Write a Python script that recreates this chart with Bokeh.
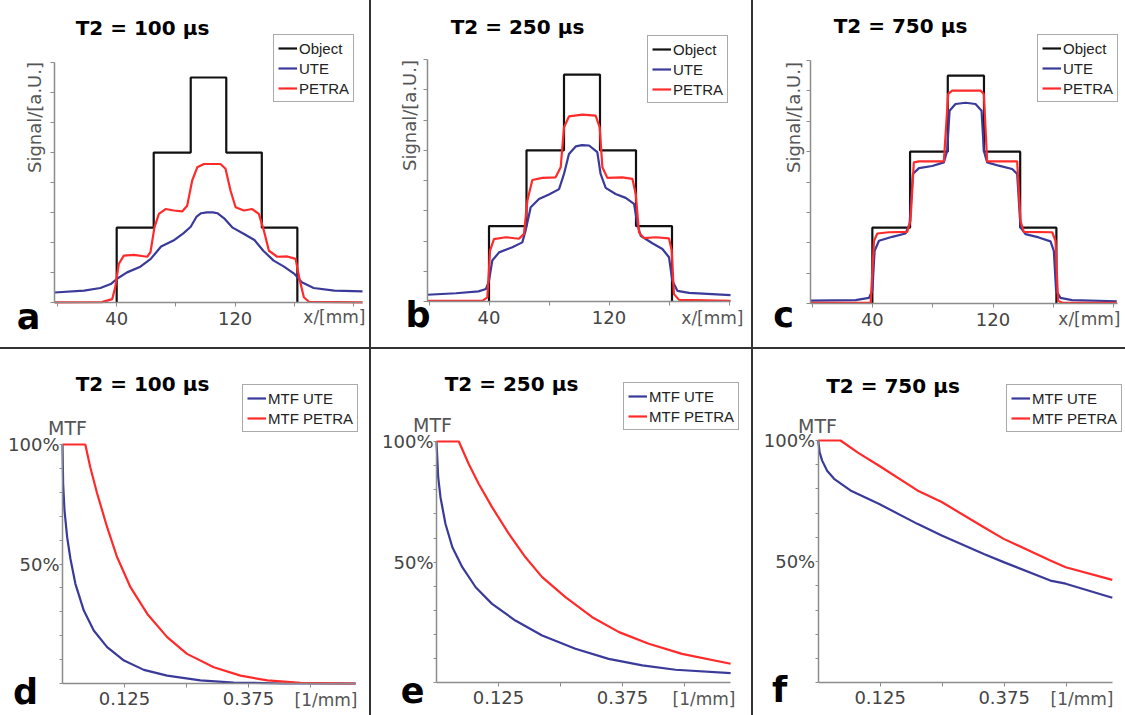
import math
from bokeh.plotting import figure
from bokeh.models import (FixedTicker, Range1d, Label, Legend, LegendItem, Div,
                          PrintfTickFormatter, LinearAxis)
from bokeh.layouts import row, column
from bokeh.embed import file_html
from bokeh.resources import INLINE

# ---------------- data ----------------
TITLES = ["T2 = 100 µs", "T2 = 250 µs", "T2 = 750 µs"]
LETTERS_TOP = ["a", "b", "c"]
LETTERS_BOT = ["d", "e", "f"]

X_TICKS_TOP_LABELED = [40, 120]
X_TICKS_TOP_MINOR = [0, 80, 160, 200]
Y_TICKS_TOP = [0, 10, 20, 30, 40, 50, 60, 70, 80]
X_TICKS_BOT_LABELED = [0.125, 0.375]
X_TICKS_BOT_MINOR = [0.25, 0.5]
Y_TICKS_BOT_LABELED = [50, 100]
Y_TICKS_BOT_MINOR = [0, 10, 20, 30, 40, 60, 70, 80, 90]

OBJ_X = [40, 40, 65, 65, 90, 90, 114, 114, 138, 138, 162, 162]
OBJ_Y = [0, 25, 25, 50, 50, 75, 75, 50, 50, 25, 25, 0]

UTE_A_X = [-2, 18, 29, 36, 40, 47, 56, 63, 70, 79, 85, 90, 94, 97, 101, 105, 108, 113, 118, 126, 133, 139, 146, 153, 160, 165, 173, 187, 206]
UTE_A_Y = [3.4, 4.0, 4.9, 6.2, 7.9, 10.1, 12.0, 14.6, 18.7, 20.9, 23.1, 25.3, 28.7, 29.8, 30.1, 30.1, 29.8, 27.9, 25.1, 22.9, 20.9, 17.3, 14.0, 12.0, 9.6, 6.8, 4.9, 4.0, 3.8]
PETRA_A_X = [-2, 30, 37, 39, 41.4, 44.8, 51.6, 60.6, 62.8, 65.5, 68.5, 73, 78.6, 84.2, 87.6, 91, 94.4, 98.9, 110.1, 113.5, 116.9, 120.3, 125.9, 131.5, 136, 139.4, 142.8, 148.4, 155.2, 160.8, 163.7, 166.4, 169.8, 206]
PETRA_A_Y = [0.1, 0.2, 1.2, 5.1, 12.9, 15.7, 15.9, 15.3, 16.8, 25.1, 29.6, 31.2, 30.7, 30.4, 32.3, 40.7, 45.1, 46.2, 46.2, 44.6, 37.3, 31.8, 30.7, 31.2, 29.6, 24.0, 17.3, 15.3, 15.4, 14.6, 7.3, 1.8, 0.3, 0.1]

UTE_B_X = [-1, 18, 33, 38, 40, 42.2, 46.7, 55.6, 62.2, 64.4, 67.8, 73.3, 80, 86.7, 90, 93.3, 97.8, 102, 106.7, 112.2, 114.4, 117.8, 124.4, 131.1, 136.7, 138.9, 141.1, 148.9, 155.6, 160, 162.2, 165.6, 173.3, 201]
UTE_B_Y = [2.3, 2.8, 3.4, 4.2, 6.9, 13.6, 16.3, 18.0, 19.6, 23.5, 31.2, 33.9, 35.4, 37.2, 42.2, 48.8, 51.3, 51.7, 51.6, 49.4, 42.2, 37.6, 35.6, 34.3, 32.3, 25.7, 21.8, 19.3, 17.4, 14.7, 6.9, 3.6, 2.9, 2.2]
PETRA_B_X = [-1, 35.6, 38.9, 40.7, 43.3, 51.1, 60, 63.3, 65.6, 68.9, 75.6, 84.4, 87.8, 90, 93.3, 102.2, 111.1, 113.8, 115.6, 118.9, 128.9, 135.6, 137.8, 140, 143.3, 151.1, 160, 161.8, 163.3, 166.7, 201]
PETRA_B_Y = [0.3, 0.3, 1.4, 16.9, 20.7, 21.3, 20.8, 22.4, 33.4, 40.2, 40.9, 41.1, 44.4, 57.6, 61.2, 61.8, 61.5, 57.6, 44.4, 40.9, 41.1, 40.6, 35.6, 22.9, 21.0, 21.3, 20.9, 16.9, 2.5, 0.6, 0.3]

UTE_C_X = [-1, 28.9, 37.7, 40, 41.5, 44.4, 53.2, 62, 64.7, 66.9, 70.9, 79.7, 87.4, 89.6, 91.2, 95.1, 101.8, 108.4, 112.4, 113.9, 116.1, 123.8, 132.7, 136, 138.2, 141.5, 150.3, 158.1, 160.3, 161.8, 164.7, 172.4, 202]
UTE_C_Y = [1.0, 1.2, 1.9, 4.3, 17.4, 20.7, 22.0, 23.1, 26.2, 42.7, 44.6, 45.3, 46.5, 50.3, 63.5, 65.7, 66.1, 65.7, 63.5, 50.3, 46.5, 45.4, 44.3, 42.7, 25.1, 22.9, 21.8, 20.5, 17.4, 4.3, 1.9, 1.2, 0.8]
PETRA_C_X = [-1, 38.9, 41.1, 43.3, 51, 63.1, 65.3, 67.5, 70.9, 87.4, 90.3, 92.9, 111.7, 113.9, 116.1, 136, 138.2, 140.4, 159.2, 161.4, 163.1, 165.8, 202]
PETRA_C_Y = [0.3, 0.4, 20.7, 23.1, 23.5, 23.6, 27.3, 46.5, 46.8, 46.8, 69.0, 70.1, 70.1, 69.0, 46.8, 46.8, 27.3, 23.6, 23.5, 20.7, 1.0, 0.3, 0.3]

UTE_D_X = [0, 0.0013, 0.004, 0.0094, 0.016, 0.026, 0.043, 0.063, 0.09, 0.124, 0.164, 0.211, 0.278, 0.345, 0.446, 0.591]
UTE_D_Y = [100, 83.5, 72.4, 61.2, 52.2, 41.7, 30.5, 22.2, 15.2, 9.6, 5.7, 3.3, 1.3, 0.4, 0.0, 0.0]
PETRA_D_X = [0, 0.046, 0.056, 0.07, 0.09, 0.11, 0.137, 0.171, 0.211, 0.251, 0.305, 0.359, 0.413, 0.48, 0.591]
PETRA_D_Y = [100, 100, 90.5, 79.4, 65.4, 52.9, 40.3, 29.1, 19.4, 12.4, 6.8, 3.3, 1.3, 0.3, 0.0]

UTE_E_X = [0, 0.0034, 0.008, 0.018, 0.032, 0.052, 0.079, 0.112, 0.159, 0.213, 0.28, 0.347, 0.415, 0.482, 0.593]
UTE_E_Y = [100, 85.2, 76.9, 65.9, 56.2, 47.9, 39.6, 32.7, 25.8, 19.6, 14.1, 9.9, 7.2, 5.4, 4.0]
PETRA_E_X = [0, 0.045, 0.065, 0.085, 0.112, 0.146, 0.179, 0.213, 0.26, 0.314, 0.368, 0.428, 0.495, 0.593]
PETRA_E_Y = [100, 100, 90.7, 82.5, 72.8, 61.7, 52.1, 43.8, 35.5, 27.2, 21.0, 16.2, 12.0, 7.9]

UTE_F_X = [0, 0.003, 0.008, 0.018, 0.032, 0.065, 0.122, 0.2, 0.249, 0.334, 0.374, 0.468, 0.499, 0.593]
UTE_F_Y = [100, 95.0, 91.7, 87.5, 84.2, 79.4, 73.9, 65.6, 60.8, 53.2, 49.8, 42.2, 40.9, 35.1]
PETRA_F_X = [0, 0.045, 0.08, 0.122, 0.2, 0.249, 0.334, 0.374, 0.468, 0.499, 0.593]
PETRA_F_Y = [100, 100, 95.0, 89.7, 79.4, 74.6, 64.2, 59.4, 50.5, 47.7, 42.5]

# ---------------- style ----------------
C_OBJ = "#111111"
C_UTE = "#3a3a9a"
C_PETRA = "#ff2a2a"
AXIS_C = "#8c8c8c"
TXT_C = "#444444"
SEP_C = "#333333"
FONT = "DejaVu Sans"
LEG_FONT = "Liberation Sans"

# ---------------- layout geometry (page pixels) ----------------
COL_X = [0, 371, 753]
COL_W = [369, 380, 372]
ROW_Y = [0, 349]
ROW_H = [347, 366]
SEP = 2


class Geo:
    """Pixel geometry of one panel: px where value 0 sits and px per unit."""
    def __init__(self, ox, oy, w, h, x0px, sx, y0py, sy):
        self.ox, self.oy, self.w, self.h = ox, oy, w, h
        self.x0px, self.sx, self.y0py, self.sy = x0px, sx, y0py, sy

    def xr(self):
        return (-(self.x0px - self.ox) / self.sx, (self.ox + self.w - self.x0px) / self.sx)

    def yr(self):
        return (-(self.oy + self.h - self.y0py) / self.sy, (self.y0py - self.oy) / self.sy)

    def dx(self, px):
        return (px - self.x0px) / self.sx

    def dy(self, py):
        return (self.y0py - py) / self.sy

    def leg(self, left, bottom):
        return (left - self.ox, self.oy + self.h - bottom)


def base_fig(g):
    p = figure(width=g.w, height=g.h, x_range=Range1d(*g.xr()), y_range=Range1d(*g.yr()),
               output_backend="svg", toolbar_location=None,
               x_axis_location=None, y_axis_location=None,
               min_border_left=0, min_border_right=0, min_border_top=0, min_border_bottom=0)
    p.grid.visible = False
    p.outline_line_color = None
    p.background_fill_color = "white"
    p.border_fill_color = "white"
    return p


def style_axis(ax, tick_out):
    ax.axis_line_color = AXIS_C
    ax.axis_line_width = 1.5
    ax.major_tick_line_color = AXIS_C
    ax.minor_tick_line_color = AXIS_C
    ax.major_tick_in = 0
    ax.minor_tick_in = 0
    ax.major_tick_out = tick_out
    ax.minor_tick_out = tick_out
    ax.major_label_text_font = FONT
    ax.major_label_text_font_size = "18px"
    ax.major_label_text_color = TXT_C


def add_label(p, g, px, py, text, size, bold=False, color="black", align="center",
              baseline="middle", angle=0.0):
    p.add_layout(Label(x=g.dx(px), y=g.dy(py), text=text, text_font=FONT,
                       text_font_size=size, text_font_style="bold" if bold else "normal",
                       text_color=color, text_align=align, text_baseline=baseline,
                       angle=angle))


def add_legend(p, items, loc):
    lg = Legend(items=items, location=loc, label_text_font=LEG_FONT,
                label_text_font_size="15px", label_text_color="#222222",
                glyph_width=19, glyph_height=18, label_height=18, label_standoff=2,
                spacing=2, padding=4, margin=0, border_line_color="#555555",
                border_line_width=1, background_fill_color="white",
                background_fill_alpha=1.0)
    p.add_layout(lg)


def top_panel(g, xb, ute_x, ute_y, pet_x, pet_y, title, t_xy, letter, l_xy, s_xy, x_xy, leg_lb):
    p = base_fig(g)
    xa = LinearAxis(fixed_location=0, bounds=xb,
                    ticker=FixedTicker(ticks=X_TICKS_TOP_LABELED, minor_ticks=X_TICKS_TOP_MINOR))
    style_axis(xa, 4)
    xa.major_label_standoff = 5
    ya = LinearAxis(fixed_location=xb[0], bounds=(0, 80),
                    ticker=FixedTicker(ticks=[], minor_ticks=Y_TICKS_TOP))
    style_axis(ya, 4)
    r_obj = p.line(OBJ_X, OBJ_Y, line_color=C_OBJ, line_width=2.2)
    r_ute = p.line(ute_x, ute_y, line_color=C_UTE, line_width=2.2)
    r_pet = p.line(pet_x, pet_y, line_color=C_PETRA, line_width=2.2)
    p.add_layout(xa, "below")
    p.add_layout(ya, "left")
    add_label(p, g, t_xy[0], t_xy[1], title, "20px", bold=True)
    add_label(p, g, l_xy[0], l_xy[1], letter, "35px", bold=True)
    add_label(p, g, s_xy[0], s_xy[1], "Signal/[a.U.]", "18px", color="#555555",
              angle=math.pi / 2)
    add_label(p, g, x_xy[0], x_xy[1], "x/[mm]", "17px", color="#555555", align="right")
    add_legend(p, [LegendItem(label="Object", renderers=[r_obj]),
                   LegendItem(label="UTE", renderers=[r_ute]),
                   LegendItem(label="PETRA", renderers=[r_pet])], g.leg(*leg_lb))
    return p


def bot_panel(g, xb, ute_x, ute_y, pet_x, pet_y, title, t_xy, letter, l_xy, m_xy, x_xy, leg_lb):
    p = base_fig(g)
    xa = LinearAxis(fixed_location=0, bounds=xb,
                    ticker=FixedTicker(ticks=X_TICKS_BOT_LABELED, minor_ticks=X_TICKS_BOT_MINOR))
    style_axis(xa, 4)
    xa.major_label_standoff = 4
    ya = LinearAxis(fixed_location=0, bounds=(0, 100),
                    ticker=FixedTicker(ticks=Y_TICKS_BOT_LABELED, minor_ticks=Y_TICKS_BOT_MINOR),
                    formatter=PrintfTickFormatter(format="%d%%"))
    style_axis(ya, 3)
    ya.major_label_standoff = 0
    r_ute = p.line(ute_x, ute_y, line_color=C_UTE, line_width=2.2)
    r_pet = p.line(pet_x, pet_y, line_color=C_PETRA, line_width=2.2)
    p.add_layout(xa, "below")
    p.add_layout(ya, "left")
    add_label(p, g, t_xy[0], t_xy[1], title, "20px", bold=True)
    add_label(p, g, l_xy[0], l_xy[1], letter, "35px", bold=True)
    add_label(p, g, m_xy[0], m_xy[1], "MTF", "19px", color="#555555")
    add_label(p, g, x_xy[0], x_xy[1], "[1/mm]", "17px", color="#555555", align="right")
    add_legend(p, [LegendItem(label="MTF UTE", renderers=[r_ute]),
                   LegendItem(label="MTF PETRA", renderers=[r_pet])], g.leg(*leg_lb))
    return p


ga = Geo(COL_X[0], ROW_Y[0], COL_W[0], ROW_H[0], 56.96, 1.4808, 302.2, 3.0025)
gb = Geo(COL_X[1], ROW_Y[0], COL_W[1], ROW_H[0], 428.5, 1.5, 301.2, 3.027)
gc = Geo(COL_X[2], ROW_Y[0], COL_W[2], ROW_H[0], 811.5, 1.5086, 303.2, 3.04)
gd = Geo(COL_X[0], ROW_Y[1], COL_W[0], ROW_H[1], 62.0, 496.0, 683.0, 2.39)
ge = Geo(COL_X[1], ROW_Y[1], COL_W[1], ROW_H[1], 436.0, 496.0, 682.3, 2.413)
gf = Geo(COL_X[2], ROW_Y[1], COL_W[2], ROW_H[1], 817.7, 496.0, 682.3, 2.423)

# letter positions are the visual centre of the letters (text box centre)
pa = top_panel(ga, (-2, 206), UTE_A_X, UTE_A_Y, PETRA_A_X, PETRA_A_Y, TITLES[0], (142, 27.7),
               LETTERS_TOP[0], (28, 316), (34, 117), (365, 316), (273, 102))
pb = top_panel(gb, (-1, 201), UTE_B_X, UTE_B_Y, PETRA_B_X, PETRA_B_Y, TITLES[1], (517, 26),
               LETTERS_TOP[1], (417.5, 314), (408.5, 115), (743, 317), (647, 103))
pc = top_panel(gc, (-1, 202.5), UTE_C_X, UTE_C_Y, PETRA_C_X, PETRA_C_Y, TITLES[2], (900, 25),
               LETTERS_TOP[2], (783, 314), (793, 117), (1120, 318), (1037, 102))
pd = bot_panel(gd, (0, 0.591), UTE_D_X, UTE_D_Y, PETRA_D_X, PETRA_D_Y, TITLES[0], (142, 383),
               LETTERS_BOT[0], (25, 691), (67, 427), (357, 699), (242, 432))
pe = bot_panel(ge, (0, 0.593), UTE_E_X, UTE_E_Y, PETRA_E_X, PETRA_E_Y, TITLES[1], (511, 383),
               LETTERS_BOT[1], (412, 689), (432, 424), (735, 698), (623, 430))
pf = bot_panel(gf, (0, 0.593), UTE_F_X, UTE_F_Y, PETRA_F_X, PETRA_F_Y, TITLES[2], (892.5, 385),
               LETTERS_BOT[2], (779, 689), (817, 425), (1113, 698), (1006, 432))


def vsep(h):
    return Div(text="", width=SEP, height=h, margin=0, styles={"background-color": SEP_C})


top_row = row(pa, vsep(ROW_H[0]), pb, vsep(ROW_H[0]), pc, spacing=0)
hsep = Div(text="", width=sum(COL_W) + 2 * SEP, height=SEP, margin=0,
           styles={"background-color": SEP_C})
bot_row = row(pd, vsep(ROW_H[1]), pe, vsep(ROW_H[1]), pf, spacing=0)
layout = column(top_row, hsep, bot_row, spacing=0)

open("out.html", "w").write(file_html(layout, INLINE))
